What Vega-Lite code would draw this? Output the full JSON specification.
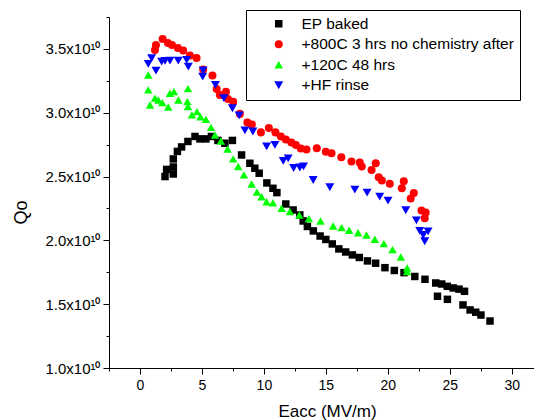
{
  "$schema": "https://vega.github.io/schema/vega-lite/v6.json",
  "width": 425,
  "height": 351,
  "autosize": {"type": "none"},
  "padding": {"left": 109, "top": 17, "right": 0, "bottom": 52},
  "background": "white",
  "config": {"view": {"stroke": null}, "font": "Liberation Sans"},
  "data": {"values": [
    {"sample": "EP baked", "Eacc": 2.02, "Qo": 2.50e10},
    {"sample": "EP baked", "Eacc": 2.15, "Qo": 2.556e10},
    {"sample": "EP baked", "Eacc": 2.69, "Qo": 2.52e10},
    {"sample": "EP baked", "Eacc": 2.69, "Qo": 2.575e10},
    {"sample": "EP baked", "Eacc": 2.69, "Qo": 2.638e10},
    {"sample": "EP baked", "Eacc": 3.02, "Qo": 2.697e10},
    {"sample": "EP baked", "Eacc": 3.36, "Qo": 2.732e10},
    {"sample": "EP baked", "Eacc": 3.87, "Qo": 2.775e10},
    {"sample": "EP baked", "Eacc": 4.44, "Qo": 2.814e10},
    {"sample": "EP baked", "Eacc": 4.84, "Qo": 2.795e10},
    {"sample": "EP baked", "Eacc": 5.32, "Qo": 2.795e10},
    {"sample": "EP baked", "Eacc": 5.77, "Qo": 2.814e10},
    {"sample": "EP baked", "Eacc": 6.29, "Qo": 2.783e10},
    {"sample": "EP baked", "Eacc": 6.85, "Qo": 2.761e10},
    {"sample": "EP baked", "Eacc": 7.46, "Qo": 2.783e10},
    {"sample": "EP baked", "Eacc": 8.20, "Qo": 2.669e10},
    {"sample": "EP baked", "Eacc": 8.87, "Qo": 2.604e10},
    {"sample": "EP baked", "Eacc": 9.27, "Qo": 2.565e10},
    {"sample": "EP baked", "Eacc": 9.62, "Qo": 2.526e10},
    {"sample": "EP baked", "Eacc": 10.24, "Qo": 2.45e10},
    {"sample": "EP baked", "Eacc": 10.73, "Qo": 2.408e10},
    {"sample": "EP baked", "Eacc": 11.05, "Qo": 2.374e10},
    {"sample": "EP baked", "Eacc": 11.77, "Qo": 2.285e10},
    {"sample": "EP baked", "Eacc": 12.36, "Qo": 2.238e10},
    {"sample": "EP baked", "Eacc": 12.90, "Qo": 2.199e10},
    {"sample": "EP baked", "Eacc": 13.17, "Qo": 2.152e10},
    {"sample": "EP baked", "Eacc": 13.51, "Qo": 2.109e10},
    {"sample": "EP baked", "Eacc": 13.99, "Qo": 2.074e10},
    {"sample": "EP baked", "Eacc": 14.54, "Qo": 2.034e10},
    {"sample": "EP baked", "Eacc": 15.0, "Qo": 2.007e10},
    {"sample": "EP baked", "Eacc": 15.52, "Qo": 1.972e10},
    {"sample": "EP baked", "Eacc": 16.05, "Qo": 1.933e10},
    {"sample": "EP baked", "Eacc": 16.6, "Qo": 1.909e10},
    {"sample": "EP baked", "Eacc": 17.14, "Qo": 1.886e10},
    {"sample": "EP baked", "Eacc": 17.7, "Qo": 1.866e10},
    {"sample": "EP baked", "Eacc": 18.36, "Qo": 1.839e10},
    {"sample": "EP baked", "Eacc": 19.02, "Qo": 1.821e10},
    {"sample": "EP baked", "Eacc": 19.77, "Qo": 1.786e10},
    {"sample": "EP baked", "Eacc": 20.53, "Qo": 1.764e10},
    {"sample": "EP baked", "Eacc": 21.31, "Qo": 1.747e10},
    {"sample": "EP baked", "Eacc": 22.18, "Qo": 1.717e10},
    {"sample": "EP baked", "Eacc": 23.0, "Qo": 1.695e10},
    {"sample": "EP baked", "Eacc": 23.87, "Qo": 1.666e10},
    {"sample": "EP baked", "Eacc": 24.35, "Qo": 1.658e10},
    {"sample": "EP baked", "Eacc": 24.8, "Qo": 1.64e10},
    {"sample": "EP baked", "Eacc": 25.28, "Qo": 1.627e10},
    {"sample": "EP baked", "Eacc": 25.75, "Qo": 1.618e10},
    {"sample": "EP baked", "Eacc": 26.19, "Qo": 1.601e10},
    {"sample": "EP baked", "Eacc": 24.01, "Qo": 1.562e10},
    {"sample": "EP baked", "Eacc": 24.81, "Qo": 1.538e10},
    {"sample": "EP baked", "Eacc": 26.07, "Qo": 1.494e10},
    {"sample": "EP baked", "Eacc": 26.64, "Qo": 1.455e10},
    {"sample": "EP baked", "Eacc": 27.1, "Qo": 1.437e10},
    {"sample": "EP baked", "Eacc": 27.52, "Qo": 1.415e10},
    {"sample": "EP baked", "Eacc": 28.25, "Qo": 1.368e10},

    {"sample": "+800C 3 hrs no chemistry after", "Eacc": 1.21, "Qo": 3.492e10},
    {"sample": "+800C 3 hrs no chemistry after", "Eacc": 1.29, "Qo": 3.531e10},
    {"sample": "+800C 3 hrs no chemistry after", "Eacc": 1.83, "Qo": 3.578e10},
    {"sample": "+800C 3 hrs no chemistry after", "Eacc": 2.26, "Qo": 3.547e10},
    {"sample": "+800C 3 hrs no chemistry after", "Eacc": 2.58, "Qo": 3.531e10},
    {"sample": "+800C 3 hrs no chemistry after", "Eacc": 3.06, "Qo": 3.508e10},
    {"sample": "+800C 3 hrs no chemistry after", "Eacc": 3.49, "Qo": 3.488e10},
    {"sample": "+800C 3 hrs no chemistry after", "Eacc": 4.03, "Qo": 3.449e10},
    {"sample": "+800C 3 hrs no chemistry after", "Eacc": 4.57, "Qo": 3.429e10},
    {"sample": "+800C 3 hrs no chemistry after", "Eacc": 5.10, "Qo": 3.339e10},
    {"sample": "+800C 3 hrs no chemistry after", "Eacc": 5.85, "Qo": 3.292e10},
    {"sample": "+800C 3 hrs no chemistry after", "Eacc": 6.19, "Qo": 3.186e10},
    {"sample": "+800C 3 hrs no chemistry after", "Eacc": 6.45, "Qo": 3.139e10},
    {"sample": "+800C 3 hrs no chemistry after", "Eacc": 6.94, "Qo": 3.165e10},
    {"sample": "+800C 3 hrs no chemistry after", "Eacc": 7.10, "Qo": 3.108e10},
    {"sample": "+800C 3 hrs no chemistry after", "Eacc": 7.52, "Qo": 3.085e10},
    {"sample": "+800C 3 hrs no chemistry after", "Eacc": 8.06, "Qo": 2.991e10},
    {"sample": "+800C 3 hrs no chemistry after", "Eacc": 8.67, "Qo": 2.924e10},
    {"sample": "+800C 3 hrs no chemistry after", "Eacc": 9.03, "Qo": 2.908e10},
    {"sample": "+800C 3 hrs no chemistry after", "Eacc": 9.76, "Qo": 2.846e10},
    {"sample": "+800C 3 hrs no chemistry after", "Eacc": 10.40, "Qo": 2.881e10},
    {"sample": "+800C 3 hrs no chemistry after", "Eacc": 10.93, "Qo": 2.846e10},
    {"sample": "+800C 3 hrs no chemistry after", "Eacc": 11.37, "Qo": 2.814e10},
    {"sample": "+800C 3 hrs no chemistry after", "Eacc": 11.77, "Qo": 2.791e10},
    {"sample": "+800C 3 hrs no chemistry after", "Eacc": 12.22, "Qo": 2.766e10},
    {"sample": "+800C 3 hrs no chemistry after", "Eacc": 12.58, "Qo": 2.748e10},
    {"sample": "+800C 3 hrs no chemistry after", "Eacc": 12.98, "Qo": 2.720e10},
    {"sample": "+800C 3 hrs no chemistry after", "Eacc": 13.44, "Qo": 2.711e10},
    {"sample": "+800C 3 hrs no chemistry after", "Eacc": 14.27, "Qo": 2.722e10},
    {"sample": "+800C 3 hrs no chemistry after", "Eacc": 15.0, "Qo": 2.695e10},
    {"sample": "+800C 3 hrs no chemistry after", "Eacc": 15.46, "Qo": 2.683e10},
    {"sample": "+800C 3 hrs no chemistry after", "Eacc": 16.25, "Qo": 2.651e10},
    {"sample": "+800C 3 hrs no chemistry after", "Eacc": 17.07, "Qo": 2.617e10},
    {"sample": "+800C 3 hrs no chemistry after", "Eacc": 17.74, "Qo": 2.609e10},
    {"sample": "+800C 3 hrs no chemistry after", "Eacc": 17.9, "Qo": 2.578e10},
    {"sample": "+800C 3 hrs no chemistry after", "Eacc": 18.69, "Qo": 2.552e10},
    {"sample": "+800C 3 hrs no chemistry after", "Eacc": 19.03, "Qo": 2.604e10},
    {"sample": "+800C 3 hrs no chemistry after", "Eacc": 19.27, "Qo": 2.495e10},
    {"sample": "+800C 3 hrs no chemistry after", "Eacc": 19.52, "Qo": 2.469e10},
    {"sample": "+800C 3 hrs no chemistry after", "Eacc": 20.16, "Qo": 2.444e10},
    {"sample": "+800C 3 hrs no chemistry after", "Eacc": 21.29, "Qo": 2.463e10},
    {"sample": "+800C 3 hrs no chemistry after", "Eacc": 21.13, "Qo": 2.408e10},
    {"sample": "+800C 3 hrs no chemistry after", "Eacc": 22.1, "Qo": 2.371e10},
    {"sample": "+800C 3 hrs no chemistry after", "Eacc": 21.85, "Qo": 2.328e10},
    {"sample": "+800C 3 hrs no chemistry after", "Eacc": 22.72, "Qo": 2.234e10},
    {"sample": "+800C 3 hrs no chemistry after", "Eacc": 23.06, "Qo": 2.219e10},
    {"sample": "+800C 3 hrs no chemistry after", "Eacc": 22.98, "Qo": 2.173e10},

    {"sample": "+120C 48 hrs", "Eacc": 0.67, "Qo": 3.296e10},
    {"sample": "+120C 48 hrs", "Eacc": 0.67, "Qo": 3.179e10},
    {"sample": "+120C 48 hrs", "Eacc": 1.21, "Qo": 3.114e10},
    {"sample": "+120C 48 hrs", "Eacc": 0.81, "Qo": 3.061e10},
    {"sample": "+120C 48 hrs", "Eacc": 1.48, "Qo": 3.100e10},
    {"sample": "+120C 48 hrs", "Eacc": 1.80, "Qo": 3.079e10},
    {"sample": "+120C 48 hrs", "Eacc": 2.28, "Qo": 3.045e10},
    {"sample": "+120C 48 hrs", "Eacc": 2.42, "Qo": 3.153e10},
    {"sample": "+120C 48 hrs", "Eacc": 2.74, "Qo": 3.165e10},
    {"sample": "+120C 48 hrs", "Eacc": 3.10, "Qo": 3.100e10},
    {"sample": "+120C 48 hrs", "Eacc": 3.87, "Qo": 3.189e10},
    {"sample": "+120C 48 hrs", "Eacc": 3.83, "Qo": 3.087e10},
    {"sample": "+120C 48 hrs", "Eacc": 3.87, "Qo": 3.049e10},
    {"sample": "+120C 48 hrs", "Eacc": 4.19, "Qo": 2.983e10},
    {"sample": "+120C 48 hrs", "Eacc": 4.60, "Qo": 3.009e10},
    {"sample": "+120C 48 hrs", "Eacc": 4.88, "Qo": 2.969e10},
    {"sample": "+120C 48 hrs", "Eacc": 5.32, "Qo": 2.948e10},
    {"sample": "+120C 48 hrs", "Eacc": 5.73, "Qo": 2.885e10},
    {"sample": "+120C 48 hrs", "Eacc": 6.05, "Qo": 2.826e10},
    {"sample": "+120C 48 hrs", "Eacc": 6.53, "Qo": 2.779e10},
    {"sample": "+120C 48 hrs", "Eacc": 7.07, "Qo": 2.716e10},
    {"sample": "+120C 48 hrs", "Eacc": 7.52, "Qo": 2.638e10},
    {"sample": "+120C 48 hrs", "Eacc": 7.93, "Qo": 2.579e10},
    {"sample": "+120C 48 hrs", "Eacc": 8.39, "Qo": 2.513e10},
    {"sample": "+120C 48 hrs", "Eacc": 9.01, "Qo": 2.442e10},
    {"sample": "+120C 48 hrs", "Eacc": 9.44, "Qo": 2.378e10},
    {"sample": "+120C 48 hrs", "Eacc": 9.81, "Qo": 2.342e10},
    {"sample": "+120C 48 hrs", "Eacc": 10.22, "Qo": 2.303e10},
    {"sample": "+120C 48 hrs", "Eacc": 10.73, "Qo": 2.295e10},
    {"sample": "+120C 48 hrs", "Eacc": 11.43, "Qo": 2.252e10},
    {"sample": "+120C 48 hrs", "Eacc": 12.10, "Qo": 2.225e10},
    {"sample": "+120C 48 hrs", "Eacc": 12.86, "Qo": 2.199e10},
    {"sample": "+120C 48 hrs", "Eacc": 13.63, "Qo": 2.170e10},
    {"sample": "+120C 48 hrs", "Eacc": 14.57, "Qo": 2.152e10},
    {"sample": "+120C 48 hrs", "Eacc": 15.59, "Qo": 2.113e10},
    {"sample": "+120C 48 hrs", "Eacc": 16.27, "Qo": 2.100e10},
    {"sample": "+120C 48 hrs", "Eacc": 16.88, "Qo": 2.079e10},
    {"sample": "+120C 48 hrs", "Eacc": 17.6, "Qo": 2.060e10},
    {"sample": "+120C 48 hrs", "Eacc": 18.28, "Qo": 2.042e10},
    {"sample": "+120C 48 hrs", "Eacc": 18.95, "Qo": 2.009e10},
    {"sample": "+120C 48 hrs", "Eacc": 19.68, "Qo": 1.974e10},
    {"sample": "+120C 48 hrs", "Eacc": 20.38, "Qo": 1.927e10},
    {"sample": "+120C 48 hrs", "Eacc": 21.05, "Qo": 1.870e10},
    {"sample": "+120C 48 hrs", "Eacc": 21.56, "Qo": 1.784e10},
    {"sample": "+120C 48 hrs", "Eacc": 21.56, "Qo": 1.756e10},

    {"sample": "+HF rinse", "Eacc": 0.94, "Qo": 3.427e10},
    {"sample": "+HF rinse", "Eacc": 0.67, "Qo": 3.382e10},
    {"sample": "+HF rinse", "Eacc": 1.29, "Qo": 3.330e10},
    {"sample": "+HF rinse", "Eacc": 1.75, "Qo": 3.400e10},
    {"sample": "+HF rinse", "Eacc": 2.02, "Qo": 3.406e10},
    {"sample": "+HF rinse", "Eacc": 2.42, "Qo": 3.408e10},
    {"sample": "+HF rinse", "Eacc": 3.09, "Qo": 3.408e10},
    {"sample": "+HF rinse", "Eacc": 3.77, "Qo": 3.414e10},
    {"sample": "+HF rinse", "Eacc": 3.90, "Qo": 3.361e10},
    {"sample": "+HF rinse", "Eacc": 5.10, "Qo": 3.332e10},
    {"sample": "+HF rinse", "Eacc": 5.06, "Qo": 3.283e10},
    {"sample": "+HF rinse", "Eacc": 6.09, "Qo": 3.218e10},
    {"sample": "+HF rinse", "Eacc": 6.77, "Qo": 3.114e10},
    {"sample": "+HF rinse", "Eacc": 7.46, "Qo": 3.035e10},
    {"sample": "+HF rinse", "Eacc": 8.01, "Qo": 2.979e10},
    {"sample": "+HF rinse", "Eacc": 8.47, "Qo": 2.861e10},
    {"sample": "+HF rinse", "Eacc": 9.11, "Qo": 2.853e10},
    {"sample": "+HF rinse", "Eacc": 10.22, "Qo": 2.736e10},
    {"sample": "+HF rinse", "Eacc": 10.89, "Qo": 2.748e10},
    {"sample": "+HF rinse", "Eacc": 11.56, "Qo": 2.622e10},
    {"sample": "+HF rinse", "Eacc": 11.96, "Qo": 2.643e10},
    {"sample": "+HF rinse", "Eacc": 12.40, "Qo": 2.567e10},
    {"sample": "+HF rinse", "Eacc": 12.90, "Qo": 2.571e10},
    {"sample": "+HF rinse", "Eacc": 13.2, "Qo": 2.579e10},
    {"sample": "+HF rinse", "Eacc": 13.98, "Qo": 2.473e10},
    {"sample": "+HF rinse", "Eacc": 15.32, "Qo": 2.416e10},
    {"sample": "+HF rinse", "Eacc": 17.34, "Qo": 2.397e10},
    {"sample": "+HF rinse", "Eacc": 18.33, "Qo": 2.374e10},
    {"sample": "+HF rinse", "Eacc": 19.35, "Qo": 2.342e10},
    {"sample": "+HF rinse", "Eacc": 20.02, "Qo": 2.311e10},
    {"sample": "+HF rinse", "Eacc": 21.45, "Qo": 2.236e10},
    {"sample": "+HF rinse", "Eacc": 22.31, "Qo": 2.156e10},
    {"sample": "+HF rinse", "Eacc": 22.58, "Qo": 2.074e10},
    {"sample": "+HF rinse", "Eacc": 23.25, "Qo": 2.071e10},
    {"sample": "+HF rinse", "Eacc": 22.86, "Qo": 2.042e10},
    {"sample": "+HF rinse", "Eacc": 22.98, "Qo": 1.993e10}
  ]},
  "mark": {"type": "point", "filled": true, "opacity": 1, "strokeWidth": 0},
  "encoding": {
    "x": {
      "field": "Eacc", "type": "quantitative",
      "scale": {"domain": [-2.5, 31.8], "nice": false, "zero": false},
      "axis": {
        "title": "Eacc (MV/m)",
        "values": [-2.5, 0, 2.5, 5, 7.5, 10, 12.5, 15, 17.5, 20, 22.5, 25, 27.5, 30],
        "labelExpr": "datum.value % 5 === 0 ? format(datum.value, 'd') : ''",
        "tickSize": {"condition": {"test": "datum.value % 5 === 0", "value": 6}, "value": 3},
        "grid": false,
        "domainColor": "black", "tickColor": "black", "labelColor": "black", "titleColor": "black",
        "labelFontSize": 14, "titleFontSize": 17, "titleFontWeight": "normal",
        "labelPadding": 4, "labelFlush": false, "labelOverlap": false,
        "titleX": 218, "titleY": 43, "titleBaseline": "middle", "titleAlign": "center"
      }
    },
    "y": {
      "field": "Qo", "type": "quantitative",
      "scale": {"domain": [1.0e10, 3.75e10], "nice": false, "zero": false},
      "axis": {
        "title": "Qo",
        "values": [1.0e10, 1.25e10, 1.5e10, 1.75e10, 2.0e10, 2.25e10, 2.5e10, 2.75e10, 3.0e10, 3.25e10, 3.5e10, 3.75e10],
        "labelExpr": "abs(datum.value / 5e9 - round(datum.value / 5e9)) < 0.001 ? format(datum.value / 1e10, '.1f') + 'x10¹⁰' : ''",
        "tickSize": {"condition": {"test": "abs(datum.value / 5e9 - round(datum.value / 5e9)) < 0.001", "value": 6}, "value": 3},
        "grid": false,
        "domainColor": "black", "tickColor": "black", "labelColor": "black", "titleColor": "black",
        "labelFontSize": 15, "titleFontSize": 18, "titleFontWeight": "normal",
        "labelPadding": 3, "labelFlush": false, "labelOverlap": false,
        "titleX": -88, "titleY": 195, "titleBaseline": "middle", "titleAlign": "center"
      }
    },
    "color": {
      "field": "sample", "type": "nominal",
      "scale": {
        "domain": ["EP baked", "+800C 3 hrs no chemistry after", "+120C 48 hrs", "+HF rinse"],
        "range": ["#000000", "#ff0000", "#00ff00", "#0000ff"]
      },
      "legend": {
        "orient": "none", "legendX": 137, "legendY": -7, "title": null,
        "strokeColor": "black", "fillColor": "white", "padding": 6,
        "symbolOffset": 19, "labelOffset": 15, "labelFontSize": 15.5, "labelColor": "black",
        "symbolSize": 55, "rowPadding": 3.5, "symbolStrokeWidth": 0, "labelLimit": 400
      }
    },
    "shape": {
      "field": "sample", "type": "nominal",
      "scale": {
        "domain": ["EP baked", "+800C 3 hrs no chemistry after", "+120C 48 hrs", "+HF rinse"],
        "range": ["square", "circle", "triangle-up", "triangle-down"]
      }
    },
    "size": {
      "field": "sample", "type": "nominal",
      "scale": {
        "domain": ["EP baked", "+800C 3 hrs no chemistry after", "+120C 48 hrs", "+HF rinse"],
        "range": [56, 81, 95, 95]
      },
      "legend": null
    }
  }
}
